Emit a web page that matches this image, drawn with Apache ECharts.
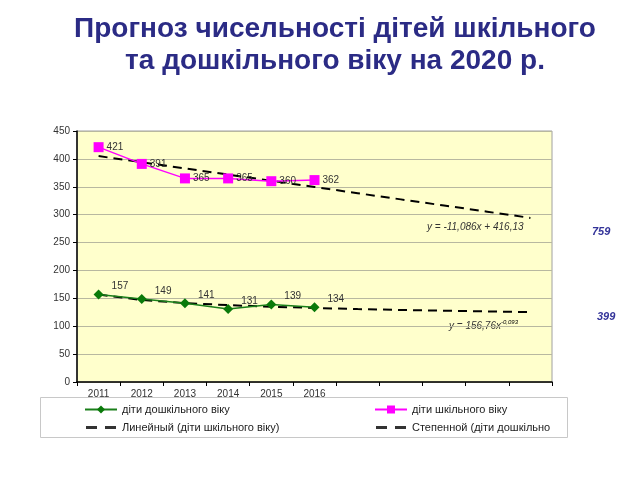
<!DOCTYPE html>
<html><head><meta charset="utf-8">
<script src="https://cdn.jsdelivr.net/npm/echarts@6/dist/echarts.min.js"></script>
<style>html,body{margin:0;padding:0;background:#fff}#c{width:640px;height:480px}</style>
</head><body><div id="c"></div>
<script>
const categories = ['2011','2012','2013','2014','2015','2016','','','','',''];
const schoolAge = [421, 391, 365, 365, 360, 362];
const preschoolAge = [157, 149, 141, 131, 139, 134];
// Trendline values as drawn in the chart (Excel trendlines)
const linearTrend = [405.0, 394.0, 382.9, 371.8, 360.7, 349.6, 338.5, 327.4, 316.4, 305.3, 294.2];
const powerTrend = [156.8, 147.0, 141.5, 137.8, 135.0, 132.7, 130.8, 129.2, 127.8, 126.5, 125.4];
const yTicks = {min: 0, max: 450, interval: 50};

const names = {
  pre: 'діти дошкільного віку',
  sch: 'діти шкільного віку',
  lin: 'Линейный (діти шкільного віку)',
  pow: 'Степенной (діти дошкільного віку)'
};
// legend text is clipped by the legend box in the original
const powVisible = 'Степенной (діти дошкільно';

const dashIcon = 'path://M0,0 M0,3.6 L11,3.6 L11,6.4 L0,6.4 Z M19,3.6 L30,3.6 L30,6.4 L19,6.4 Z M30,10';

const chart = echarts.init(document.getElementById('c'));
const font = 'Liberation Sans, Arial, sans-serif';
chart.setOption({
  backgroundColor: '#fff',
  animation: false,
  textStyle: {fontFamily: font},
  title: {
    text: 'Прогноз чисельності дітей шкільного\nта дошкільного віку на 2020 р.',
    left: 330, top: 8, textAlign: 'center',
    textStyle: {fontFamily: font, fontSize: 28, fontWeight: 'bold', color: '#2b2b85', lineHeight: 32}
  },
  grid: {left: 77, top: 131, right: 88, bottom: 98, show: true, backgroundColor: '#ffffcc', borderColor: '#a0a0a0', borderWidth: 1},
  xAxis: {
    type: 'category', data: categories, boundaryGap: true,
    axisLine: {lineStyle: {color: '#000', width: 1.5}},
    axisTick: {show: true, interval: 0, length: 4, lineStyle: {color: '#000'}},
    axisLabel: {interval: 0, fontSize: 10, color: '#333', margin: 7}
  },
  yAxis: {
    type: 'value', min: yTicks.min, max: yTicks.max, interval: yTicks.interval,
    axisLine: {show: true, lineStyle: {color: '#000', width: 1.5}},
    axisTick: {show: true, length: 4, lineStyle: {color: '#000'}},
    axisLabel: {fontSize: 10, color: '#333', margin: 7},
    splitLine: {lineStyle: {color: '#b8b8a0', width: 1}}
  },
  legend: [
    {orient: 'vertical', left: 79, top: 399, itemWidth: 32, itemHeight: 10, itemGap: 7,
     data: [names.pre, {name: names.lin, icon: dashIcon}], textStyle: {fontSize: 11, color: '#222'}},
    {orient: 'vertical', left: 369, top: 399, itemWidth: 32, itemHeight: 10, itemGap: 7,
     data: [names.sch, {name: names.pow, icon: dashIcon}],
     formatter: n => (n === names.pow ? powVisible : n),
     textStyle: {fontSize: 11, color: '#222'}}
  ],
  graphic: [
    {type: 'rect', left: 40, top: 397, shape: {width: 527, height: 40}, style: {fill: 'rgba(255,255,255,0.0)', stroke: '#c8c8c8', lineWidth: 1}, z: 0},
    {type: 'text', left: 427, top: 222, style: {text: 'y = -11,086x + 416,13', font: 'italic 10px ' + font, fill: '#333'}},
    {type: 'text', left: 449, top: 319, style: {text: '{b|y = 156,76x}{s|-0,093}', rich: {b: {font: 'italic 10px ' + font, fill: '#333', color: '#333'}, s: {font: 'italic 6px ' + font, color: '#555', verticalAlign: 'top', padding: [0,0,8,0]}}}},
    {type: 'text', left: 592, top: 226, style: {text: '759', font: 'italic bold 11px ' + font, fill: '#333399'}},
    {type: 'text', left: 597, top: 311, style: {text: '399', font: 'italic bold 11px ' + font, fill: '#333399'}}
  ],
  series: [
    {name: names.lin, type: 'line', data: linearTrend, symbol: 'none', z: 2,
     lineStyle: {color: '#000', width: 2, type: [9, 6]}, itemStyle: {color: '#333'}},
    {name: names.pow, type: 'line', data: powerTrend, symbol: 'none', z: 2,
     lineStyle: {color: '#000', width: 2, type: [9, 6]}, itemStyle: {color: '#333'}},
    {name: names.pre, type: 'line', data: preschoolAge, symbol: 'diamond', symbolSize: 10, z: 3,
     lineStyle: {color: '#1a7f1a', width: 1.5}, itemStyle: {color: '#0a7a0a'},
     label: {show: true, position: 'right', distance: 8, offset: [0, -8], fontSize: 10, color: '#333'}},
    {name: names.sch, type: 'line', data: schoolAge, symbol: 'rect', symbolSize: 10, z: 3,
     lineStyle: {color: '#ff00ff', width: 1.5}, itemStyle: {color: '#ff00ff'},
     label: {show: true, position: 'right', distance: 3, fontSize: 10, color: '#333'}}
  ]
});
</script></body></html>
